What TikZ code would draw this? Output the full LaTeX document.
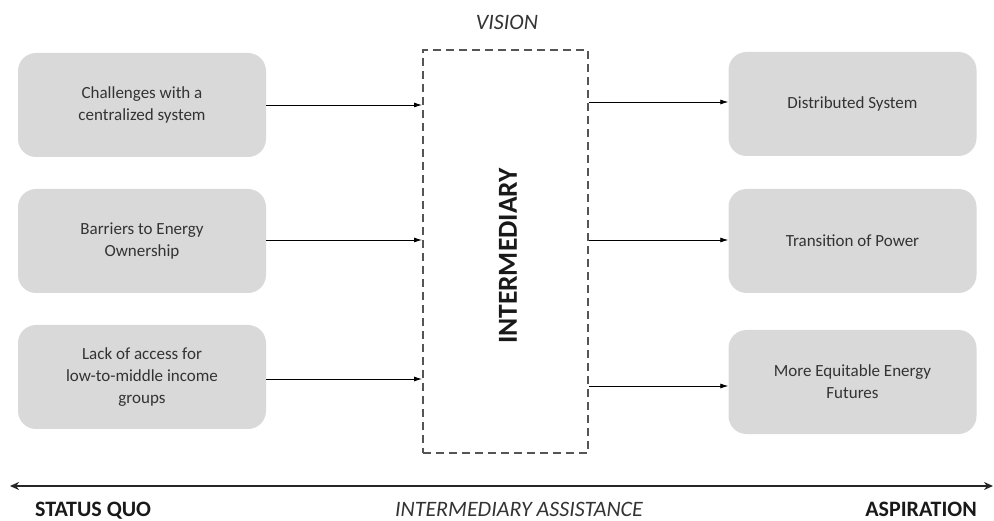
\documentclass[tikz,border=0pt]{standalone}
\usepackage{fontspec}
\setmainfont{Carlito}
\usetikzlibrary{arrows.meta}
\definecolor{boxgray}{HTML}{D9D9D9}
\definecolor{txtgray}{HTML}{333333}
\definecolor{dashgray}{HTML}{555555}
\tikzset{
  card/.style={fill=boxgray, draw=none, rounded corners=18pt, minimum width=248pt,
    minimum height=104pt, align=center, text=txtgray, font=\fontsize{17}{22}\selectfont},
  link/.style={draw=black, line width=0.8pt, -{Latex[length=8pt,width=5pt]}},
  axis/.style={draw=black!85, line width=2pt, {Stealth[length=9pt,width=8pt]}-{Stealth[length=9pt,width=8pt]}},
  endlabel/.style={font=\bfseries\fontsize{22}{24}\selectfont, text=black!90, inner sep=0pt},
  midlabel/.style={font=\itshape\fontsize{22}{24}\selectfont, text=txtgray}
}
\begin{document}
\begin{tikzpicture}[x=1pt,y=-1pt]
\useasboundingbox (0,0) rectangle (994,521);
% central box
\node[draw=dashgray, dashed, dash pattern=on 8pt off 5pt, line width=2pt,
      minimum width=165pt, minimum height=403pt] (mid) at (505.5,251.5) {};
\node[rotate=90, font=\bfseries\fontsize{27.5}{30}\selectfont, text=black!90] (midtxt) at (508,256) {INTERMEDIARY};
\node[midlabel] (vision) at (507,22) {VISION};
% left column
\node[card] (l1) at (142,105) {Challenges with a\\centralized system};
\node[card] (l2) at (142,241) {Barriers to Energy\\Ownership};
\node[card] (l3) at (142,377) {Lack of access for\\low-to-middle income\\groups};
% right column
\node[card] (r1) at (852.5,104) {Distributed System};
\node[card] (r2) at (852.5,241) {Transition of Power};
\node[card] (r3) at (852.5,382) {More Equitable Energy\\Futures};
% connectors
\draw[link] (l1.east |- 0,105) -- (mid.west |- 0,105);
\draw[link] (l2.east |- 0,240) -- (mid.west |- 0,240);
\draw[link] (l3.east |- 0,379) -- (mid.west |- 0,379);
\draw[link] (mid.east |- 0,102) -- (r1.west |- 0,102);
\draw[link] (mid.east |- 0,240) -- (r2.west |- 0,240);
\draw[link] (mid.east |- 0,386) -- (r3.west |- 0,386);
% bottom axis
\coordinate (axl) at (10,486);
\coordinate (axr) at (993,486);
\draw[axis] (axl) -- (axr);
\node[endlabel, anchor=base west] (sq) at (35,516) {STATUS QUO};
\node[midlabel, inner sep=0pt, anchor=base] (ia) at (519,516) {INTERMEDIARY ASSISTANCE};
\node[endlabel, anchor=base east] (asp) at (977,516) {ASPIRATION};
\end{tikzpicture}
\end{document}
